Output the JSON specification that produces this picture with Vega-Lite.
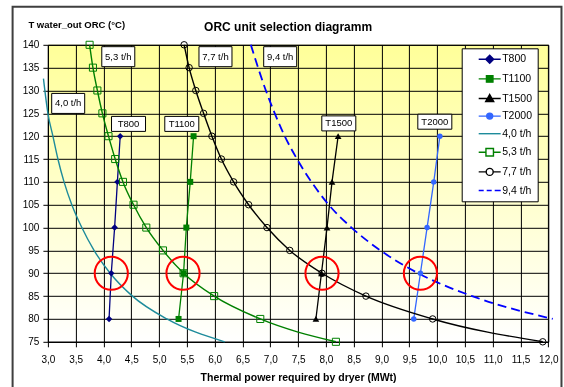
{
  "$schema": "https://vega.github.io/schema/vega-lite/v6.json",
  "width": 500.4,
  "height": 297,
  "autosize": {"type": "none"},
  "padding": {"left": 47.9, "top": 44.8, "right": 15.7, "bottom": 45.2},
  "background": "#ffffff",
  "title": {
    "text": "ORC unit selection diagramm",
    "fontSize": 12,
    "fontWeight": "bold",
    "color": "#000000",
    "anchor": "middle",
    "dx": -10,
    "dy": 32,
    "offset": 4
  },
  "datasets": {
    "curves": [
      {"series": "T800", "power": 4.10, "temp": 80},
      {"series": "T800", "power": 4.14, "temp": 90},
      {"series": "T800", "power": 4.20, "temp": 100},
      {"series": "T800", "power": 4.25, "temp": 110},
      {"series": "T800", "power": 4.30, "temp": 120},
      {"series": "T1100", "power": 5.35, "temp": 80},
      {"series": "T1100", "power": 5.44, "temp": 90},
      {"series": "T1100", "power": 5.49, "temp": 100},
      {"series": "T1100", "power": 5.56, "temp": 110},
      {"series": "T1100", "power": 5.62, "temp": 120},
      {"series": "T1500", "power": 7.82, "temp": 80},
      {"series": "T1500", "power": 7.92, "temp": 90},
      {"series": "T1500", "power": 8.02, "temp": 100},
      {"series": "T1500", "power": 8.11, "temp": 110},
      {"series": "T1500", "power": 8.22, "temp": 120},
      {"series": "T2000", "power": 9.58, "temp": 80},
      {"series": "T2000", "power": 9.70, "temp": 90},
      {"series": "T2000", "power": 9.82, "temp": 100},
      {"series": "T2000", "power": 9.94, "temp": 110},
      {"series": "T2000", "power": 10.05, "temp": 120},
      {"series": "4,0 t/h", "power": 2.92, "temp": 132.6},
      {"series": "4,0 t/h", "power": 3.00, "temp": 125},
      {"series": "4,0 t/h", "power": 3.09, "temp": 120},
      {"series": "4,0 t/h", "power": 3.18, "temp": 115},
      {"series": "4,0 t/h", "power": 3.29, "temp": 110},
      {"series": "4,0 t/h", "power": 3.43, "temp": 105},
      {"series": "4,0 t/h", "power": 3.61, "temp": 100},
      {"series": "4,0 t/h", "power": 3.83, "temp": 95},
      {"series": "4,0 t/h", "power": 4.12, "temp": 90},
      {"series": "4,0 t/h", "power": 4.52, "temp": 85},
      {"series": "4,0 t/h", "power": 5.14, "temp": 80},
      {"series": "4,0 t/h", "power": 6.18, "temp": 75},
      {"series": "5,3 t/h", "power": 3.75, "temp": 140},
      {"series": "5,3 t/h", "power": 3.81, "temp": 135},
      {"series": "5,3 t/h", "power": 3.89, "temp": 130},
      {"series": "5,3 t/h", "power": 3.98, "temp": 125},
      {"series": "5,3 t/h", "power": 4.09, "temp": 120},
      {"series": "5,3 t/h", "power": 4.21, "temp": 115},
      {"series": "5,3 t/h", "power": 4.35, "temp": 110},
      {"series": "5,3 t/h", "power": 4.54, "temp": 105},
      {"series": "5,3 t/h", "power": 4.77, "temp": 100},
      {"series": "5,3 t/h", "power": 5.07, "temp": 95},
      {"series": "5,3 t/h", "power": 5.44, "temp": 90},
      {"series": "5,3 t/h", "power": 5.99, "temp": 85},
      {"series": "5,3 t/h", "power": 6.82, "temp": 80},
      {"series": "5,3 t/h", "power": 8.18, "temp": 75},
      {"series": "7,7 t/h", "power": 5.45, "temp": 140},
      {"series": "7,7 t/h", "power": 5.54, "temp": 135},
      {"series": "7,7 t/h", "power": 5.66, "temp": 130},
      {"series": "7,7 t/h", "power": 5.80, "temp": 125},
      {"series": "7,7 t/h", "power": 5.95, "temp": 120},
      {"series": "7,7 t/h", "power": 6.12, "temp": 115},
      {"series": "7,7 t/h", "power": 6.34, "temp": 110},
      {"series": "7,7 t/h", "power": 6.61, "temp": 105},
      {"series": "7,7 t/h", "power": 6.94, "temp": 100},
      {"series": "7,7 t/h", "power": 7.35, "temp": 95},
      {"series": "7,7 t/h", "power": 7.93, "temp": 90},
      {"series": "7,7 t/h", "power": 8.72, "temp": 85},
      {"series": "7,7 t/h", "power": 9.92, "temp": 80},
      {"series": "7,7 t/h", "power": 11.90, "temp": 75},
      {"series": "9,4 t/h", "power": 6.65, "temp": 140},
      {"series": "9,4 t/h", "power": 6.78, "temp": 135},
      {"series": "9,4 t/h", "power": 6.92, "temp": 130},
      {"series": "9,4 t/h", "power": 7.08, "temp": 125},
      {"series": "9,4 t/h", "power": 7.26, "temp": 120},
      {"series": "9,4 t/h", "power": 7.48, "temp": 115},
      {"series": "9,4 t/h", "power": 7.74, "temp": 110},
      {"series": "9,4 t/h", "power": 8.05, "temp": 105},
      {"series": "9,4 t/h", "power": 8.46, "temp": 100},
      {"series": "9,4 t/h", "power": 8.98, "temp": 95},
      {"series": "9,4 t/h", "power": 9.66, "temp": 90},
      {"series": "9,4 t/h", "power": 10.63, "temp": 85},
      {"series": "9,4 t/h", "power": 12.08, "temp": 80}
    ],
    "labels": [
      {"text": "5,3 t/h", "kind": "flow", "power": 4.266, "temp": 137.4},
      {"text": "7,7 t/h", "kind": "flow", "power": 6.014, "temp": 137.4},
      {"text": "9,4 t/h", "kind": "flow", "power": 7.178, "temp": 137.4},
      {"text": "4,0 t/h", "kind": "flow", "power": 3.365, "temp": 127.17},
      {"text": "T800", "kind": "unit", "power": 4.45, "temp": 122.69},
      {"text": "T1100", "kind": "unit", "power": 5.408, "temp": 122.69},
      {"text": "T1500", "kind": "unit", "power": 8.232, "temp": 122.8},
      {"text": "T2000", "kind": "unit", "power": 9.959, "temp": 123.17}
    ],
    "selected": [
      {"power": 4.14, "temp": 90},
      {"power": 5.43, "temp": 90},
      {"power": 7.93, "temp": 90},
      {"power": 9.70, "temp": 90}
    ]
  },
  "layer": [
    {
      "data": {"values": [{}]},
      "mark": {
        "type": "rect",
        "blend": "multiply",
        "fill": {"gradient": "linear", "x1": 0, "y1": 0, "x2": 0, "y2": 1, "stops": [{"offset": 0, "color": "#ffff99"}, {"offset": 1, "color": "#ffffff"}]}
      },
      "encoding": {
        "x": {"datum": 3, "type": "quantitative", "scale": {"domain": [3, 12], "nice": false, "zero": false}},
        "x2": {"datum": 12},
        "y": {"datum": 140, "type": "quantitative", "scale": {"domain": [75, 140], "nice": false, "zero": false}},
        "y2": {"datum": 75}
      }
    },
    {
      "data": {"name": "curves"},
      "transform": [{"filter": "datum.series == 'T800'"}],
      "mark": {"type": "line", "color": "#000080", "strokeWidth": 1.3},
      "encoding": {
        "x": {
          "field": "power", "type": "quantitative",
          "scale": {"domain": [3, 12], "nice": false, "zero": false},
          "axis": {
            "values": [3, 3.5, 4, 4.5, 5, 5.5, 6, 6.5, 7, 7.5, 8, 8.5, 9, 9.5, 10, 10.5, 11, 11.5, 12],
            "tickCount": 40,
            "labelExpr": "replace(format(datum.value, '.1f'), '.', ',')",
            "title": "Thermal power required by dryer (MWt)",
            "grid": true, "labelOverlap": false, "labelFlush": false
          }
        },
        "y": {
          "field": "temp", "type": "quantitative",
          "scale": {"domain": [75, 140], "nice": false, "zero": false},
          "axis": {
            "values": [75, 80, 85, 90, 95, 100, 105, 110, 115, 120, 125, 130, 135, 140],
            "tickCount": 40,
            "title": "T water_out ORC (°C)",
            "grid": true, "labelOverlap": false, "labelFlush": false
          }
        }
      }
    },
    {
      "data": {"name": "curves"},
      "transform": [{"filter": "datum.series == 'T1100'"}],
      "mark": {"type": "line", "color": "#008000", "strokeWidth": 1.3},
      "encoding": {
        "x": {"field": "power", "type": "quantitative", "scale": {"domain": [3, 12], "nice": false, "zero": false}},
        "y": {"field": "temp", "type": "quantitative", "scale": {"domain": [75, 140], "nice": false, "zero": false}}
      }
    },
    {
      "data": {"name": "curves"},
      "transform": [{"filter": "datum.series == 'T1500'"}],
      "mark": {"type": "line", "color": "#000000", "strokeWidth": 1.3},
      "encoding": {
        "x": {"field": "power", "type": "quantitative", "scale": {"domain": [3, 12], "nice": false, "zero": false}},
        "y": {"field": "temp", "type": "quantitative", "scale": {"domain": [75, 140], "nice": false, "zero": false}}
      }
    },
    {
      "data": {"name": "curves"},
      "transform": [{"filter": "datum.series == 'T2000'"}],
      "mark": {"type": "line", "color": "#3366ff", "strokeWidth": 1.3},
      "encoding": {
        "x": {"field": "power", "type": "quantitative", "scale": {"domain": [3, 12], "nice": false, "zero": false}},
        "y": {"field": "temp", "type": "quantitative", "scale": {"domain": [75, 140], "nice": false, "zero": false}}
      }
    },
    {
      "data": {"name": "curves"},
      "transform": [{"filter": "datum.series == '4,0 t/h'"}],
      "mark": {"type": "line", "color": "#1d8b9b", "strokeWidth": 1.4, "interpolate": "monotone"},
      "encoding": {
        "x": {"field": "power", "type": "quantitative", "scale": {"domain": [3, 12], "nice": false, "zero": false}},
        "y": {"field": "temp", "type": "quantitative", "scale": {"domain": [75, 140], "nice": false, "zero": false}}
      }
    },
    {
      "data": {"name": "curves"},
      "transform": [{"filter": "datum.series == '5,3 t/h'"}],
      "mark": {"type": "line", "color": "#008000", "strokeWidth": 1.4, "interpolate": "monotone"},
      "encoding": {
        "x": {"field": "power", "type": "quantitative", "scale": {"domain": [3, 12], "nice": false, "zero": false}},
        "y": {"field": "temp", "type": "quantitative", "scale": {"domain": [75, 140], "nice": false, "zero": false}}
      }
    },
    {
      "data": {"name": "curves"},
      "transform": [{"filter": "datum.series == '7,7 t/h'"}],
      "mark": {"type": "line", "color": "#000000", "strokeWidth": 1.4, "interpolate": "monotone"},
      "encoding": {
        "x": {"field": "power", "type": "quantitative", "scale": {"domain": [3, 12], "nice": false, "zero": false}},
        "y": {"field": "temp", "type": "quantitative", "scale": {"domain": [75, 140], "nice": false, "zero": false}}
      }
    },
    {
      "data": {"name": "curves"},
      "transform": [{"filter": "datum.series == '9,4 t/h'"}],
      "mark": {"type": "line", "color": "#0000ff", "strokeWidth": 1.8, "strokeDash": [9, 5], "interpolate": "monotone"},
      "encoding": {
        "x": {"field": "power", "type": "quantitative", "scale": {"domain": [3, 12], "nice": false, "zero": false}},
        "y": {"field": "temp", "type": "quantitative", "scale": {"domain": [75, 140], "nice": false, "zero": false}}
      }
    },
    {
      "data": {"name": "curves"},
      "transform": [{"filter": "datum.series == 'T800'"}],
      "mark": {"type": "point", "shape": "diamond", "size": 42, "filled": true, "color": "#000080", "opacity": 1},
      "encoding": {
        "x": {"field": "power", "type": "quantitative", "scale": {"domain": [3, 12], "nice": false, "zero": false}},
        "y": {"field": "temp", "type": "quantitative", "scale": {"domain": [75, 140], "nice": false, "zero": false}}
      }
    },
    {
      "data": {"name": "curves"},
      "transform": [{"filter": "datum.series == 'T1100'"}],
      "mark": {"type": "point", "shape": "square", "size": 36, "filled": true, "color": "#008000", "opacity": 1},
      "encoding": {
        "x": {"field": "power", "type": "quantitative", "scale": {"domain": [3, 12], "nice": false, "zero": false}},
        "y": {"field": "temp", "type": "quantitative", "scale": {"domain": [75, 140], "nice": false, "zero": false}}
      }
    },
    {
      "data": {"name": "curves"},
      "transform": [{"filter": "datum.series == 'T1500'"}],
      "mark": {"type": "point", "shape": "triangle-up", "size": 45, "filled": true, "color": "#000000", "opacity": 1},
      "encoding": {
        "x": {"field": "power", "type": "quantitative", "scale": {"domain": [3, 12], "nice": false, "zero": false}},
        "y": {"field": "temp", "type": "quantitative", "scale": {"domain": [75, 140], "nice": false, "zero": false}}
      }
    },
    {
      "data": {"name": "curves"},
      "transform": [{"filter": "datum.series == 'T2000'"}],
      "mark": {"type": "point", "shape": "circle", "size": 30, "filled": true, "color": "#3366ff", "opacity": 1},
      "encoding": {
        "x": {"field": "power", "type": "quantitative", "scale": {"domain": [3, 12], "nice": false, "zero": false}},
        "y": {"field": "temp", "type": "quantitative", "scale": {"domain": [75, 140], "nice": false, "zero": false}}
      }
    },
    {
      "data": {"name": "curves"},
      "transform": [{"filter": "datum.series == '5,3 t/h'"}],
      "mark": {"type": "point", "shape": "square", "size": 50, "filled": false, "color": "#008000", "strokeWidth": 1, "opacity": 1},
      "encoding": {
        "x": {"field": "power", "type": "quantitative", "scale": {"domain": [3, 12], "nice": false, "zero": false}},
        "y": {"field": "temp", "type": "quantitative", "scale": {"domain": [75, 140], "nice": false, "zero": false}}
      }
    },
    {
      "data": {"name": "curves"},
      "transform": [{"filter": "datum.series == '7,7 t/h'"}],
      "mark": {"type": "point", "shape": "circle", "size": 42, "filled": false, "color": "#000000", "strokeWidth": 1, "opacity": 1},
      "encoding": {
        "x": {"field": "power", "type": "quantitative", "scale": {"domain": [3, 12], "nice": false, "zero": false}},
        "y": {"field": "temp", "type": "quantitative", "scale": {"domain": [75, 140], "nice": false, "zero": false}}
      }
    },
    {
      "data": {"name": "selected"},
      "mark": {"type": "point", "shape": "circle", "size": 1100, "filled": false, "color": "#ff0000", "strokeWidth": 2, "opacity": 1},
      "encoding": {
        "x": {"field": "power", "type": "quantitative", "scale": {"domain": [3, 12], "nice": false, "zero": false}},
        "y": {"field": "temp", "type": "quantitative", "scale": {"domain": [75, 140], "nice": false, "zero": false}}
      }
    },
    {
      "data": {"name": "labels"},
      "transform": [{"filter": "datum.kind == 'flow'"}],
      "mark": {"type": "point", "shape": "M-1.65,-1H1.65V1H-1.65Z", "size": 400, "filled": true, "fill": "#ffffff", "stroke": "#000000", "strokeWidth": 1, "opacity": 1},
      "encoding": {
        "x": {"field": "power", "type": "quantitative", "scale": {"domain": [3, 12], "nice": false, "zero": false}},
        "y": {"field": "temp", "type": "quantitative", "scale": {"domain": [75, 140], "nice": false, "zero": false}}
      }
    },
    {
      "data": {"name": "labels"},
      "transform": [{"filter": "datum.kind == 'unit'"}],
      "mark": {"type": "point", "shape": "M-1.7,-0.75H1.7V0.75H-1.7Z", "size": 400, "filled": true, "fill": "#ffffff", "stroke": "#000000", "strokeWidth": 1, "opacity": 1},
      "encoding": {
        "x": {"field": "power", "type": "quantitative", "scale": {"domain": [3, 12], "nice": false, "zero": false}},
        "y": {"field": "temp", "type": "quantitative", "scale": {"domain": [75, 140], "nice": false, "zero": false}}
      }
    },
    {
      "data": {"name": "labels"},
      "mark": {"type": "text", "fontSize": 9.5, "color": "#000000", "align": "center", "baseline": "middle"},
      "encoding": {
        "x": {"field": "power", "type": "quantitative", "scale": {"domain": [3, 12], "nice": false, "zero": false}},
        "y": {"field": "temp", "type": "quantitative", "scale": {"domain": [75, 140], "nice": false, "zero": false}},
        "text": {"field": "text"}
      }
    },
    {
      "data": {"values": [{}]},
      "mark": {"type": "rect", "fill": null, "stroke": "#3f3f3f", "strokeWidth": 2},
      "encoding": {
        "x": {"datum": 2.365, "type": "quantitative", "scale": {"domain": [3, 12], "nice": false, "zero": false}},
        "x2": {"datum": 12.237},
        "y": {"datum": 148.34, "type": "quantitative", "scale": {"domain": [75, 140], "nice": false, "zero": false}},
        "y2": {"datum": 62.3}
      }
    },
    {
      "data": {"name": "curves"},
      "transform": [{"filter": "false"}],
      "mark": {"type": "point", "size": 100, "filled": true, "strokeWidth": 1.4, "opacity": 1},
      "encoding": {
        "stroke": {
          "field": "series", "type": "nominal",
          "scale": {
            "domain": ["T800", "T1100", "T1500", "T2000", "4,0 t/h", "5,3 t/h", "7,7 t/h", "9,4 t/h"],
            "range": ["#000080", "#008000", "#000000", "#3366ff", "#1d8b9b", "#008000", "#000000", "#0000ff"]
          },
          "legend": {"orient": "none", "legendX": 413.8, "legendY": 3.5, "title": null, "fillColor": "#ffffff", "strokeColor": "#000000", "padding": 5, "symbolOffset": 17, "labelOffset": 6.5, "rowPadding": 5.6, "labelFontSize": 10.5, "labelColor": "#000000", "symbolSize": 100, "symbolStrokeWidth": 1.4}
        },
        "fill": {
          "field": "series", "type": "nominal",
          "scale": {
            "domain": ["T800", "T1100", "T1500", "T2000", "4,0 t/h", "5,3 t/h", "7,7 t/h", "9,4 t/h"],
            "range": ["#000080", "#008000", "#000000", "#3366ff", "transparent", "transparent", "transparent", "transparent"]
          },
          "legend": {"orient": "none", "legendX": 413.8, "legendY": 3.5, "title": null, "fillColor": "#ffffff", "strokeColor": "#000000", "padding": 5, "symbolOffset": 17, "labelOffset": 6.5, "rowPadding": 5.6, "labelFontSize": 10.5, "labelColor": "#000000", "symbolSize": 100, "symbolStrokeWidth": 1.4}
        },
        "shape": {
          "field": "series", "type": "nominal",
          "scale": {
            "domain": ["T800", "T1100", "T1500", "T2000", "4,0 t/h", "5,3 t/h", "7,7 t/h", "9,4 t/h"],
            "range": [
              "M-2.2,0H2.2M0,-0.8L0.8,0L0,0.8L-0.8,0Z",
              "M-2.2,0H2.2M-0.65,-0.65H0.65V0.65H-0.65Z",
              "M-2.2,0H2.2M0,-0.8L0.8,0.6H-0.8Z",
              "M-2.2,0H2.2M0.6,0A0.6,0.6,0,1,1,-0.6,0A0.6,0.6,0,1,1,0.6,0Z",
              "M-2.2,0H2.2",
              "M-2.2,0H-0.75M0.75,0H2.2M-0.75,-0.75H0.75V0.75H-0.75Z",
              "M-2.2,0H-0.7M0.7,0H2.2M0.7,0A0.7,0.7,0,1,1,-0.7,0A0.7,0.7,0,1,1,0.7,0Z",
              "M-2.2,0H-1.2M-0.6,0H0.4M1.0,0H2.2"
            ]
          },
          "legend": {"orient": "none", "legendX": 413.8, "legendY": 3.5, "title": null, "fillColor": "#ffffff", "strokeColor": "#000000", "padding": 5, "symbolOffset": 17, "labelOffset": 6.5, "rowPadding": 5.6, "labelFontSize": 10.5, "labelColor": "#000000", "symbolSize": 100, "symbolStrokeWidth": 1.4}
        }
      }
    }
  ],
  "config": {
    "font": "Liberation Sans",
    "view": {"stroke": "#000000", "strokeWidth": 1},
    "axis": {
      "grid": true,
      "gridColor": "#000000",
      "gridWidth": 1,
      "gridOpacity": 1,
      "domainColor": "#000000",
      "tickColor": "#000000",
      "tickSize": 5,
      "labelFontSize": 10,
      "labelColor": "#000000",
      "labelFlush": false,
      "labelOverlap": false,
      "titleColor": "#000000",
      "titleFontWeight": "bold"
    },
    "axisX": {
      "labelPadding": 8,
      "titleFontSize": 10.5,
      "titleBaseline": "middle",
      "titleY": 36
    },
    "axisY": {
      "labelPadding": 4,
      "titleFontSize": 9.5,
      "titleAngle": 0,
      "titleAlign": "left",
      "titleBaseline": "middle",
      "titleX": -20,
      "titleY": -20
    }
  }
}
